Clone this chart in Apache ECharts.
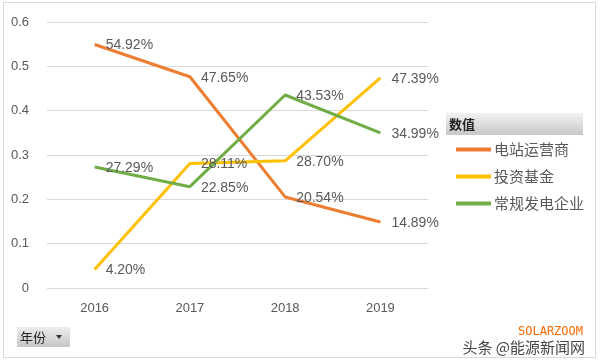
<!DOCTYPE html>
<html><head><meta charset="utf-8">
<script src="https://cdn.jsdelivr.net/npm/echarts@6/dist/echarts.min.js"></script>
<style>html,body{margin:0;padding:0;background:#fff}#c{width:600px;height:364px}</style>
</head><body><div id="c"></div>
<script>
var categories = ['2016', '2017', '2018', '2019'];
var seriesNames = ['电站运营商', '投资基金', '常规发电企业'];
var operators = [0.5492, 0.4765, 0.2054, 0.1489];
var funds = [0.0420, 0.2811, 0.2870, 0.4739];
var conventional = [0.2729, 0.2285, 0.4353, 0.3499];
var yTicks = [0, 0.1, 0.2, 0.3, 0.4, 0.5, 0.6];
var colors = ['#ED7D31', '#FFC000', '#70AD47'];
var font = '"Noto Sans CJK SC", "Microsoft YaHei", sans-serif';

var chart = echarts.init(document.getElementById('c'), null, {renderer: 'canvas'});
function mk(name, data, color) {
  return {
    name: name, type: 'line', data: data, symbol: 'circle', symbolSize: 0, showSymbol: true,
    lineStyle: {width: 3, color: color}, itemStyle: {color: color},
    label: {show: true, position: 'right', distance: 11, color: '#595959', fontSize: 14,
      fontFamily: '"Liberation Sans", "Noto Sans", sans-serif',
      formatter: function (p) { return (p.value * 100).toFixed(2) + '%'; }},
    labelLayout: {dy: 1}
  };
}
chart.setOption({
  animation: false,
  textStyle: {fontFamily: font},
  grid: {left: 47, right: 172, top: 22, bottom: 76},
  xAxis: {type: 'category', data: categories, boundaryGap: true,
    axisLine: {show: false}, axisTick: {show: false},
    axisLabel: {color: '#595959', fontSize: 13, margin: 14, fontFamily: '"Liberation Sans", sans-serif'}},
  yAxis: {type: 'value', min: 0, max: 0.6, interval: 0.1,
    axisLine: {show: false}, axisTick: {show: false},
    splitLine: {lineStyle: {color: '#D9D9D9', width: 1}},
    axisLabel: {color: '#595959', fontSize: 13, margin: 18, fontFamily: '"Liberation Sans", sans-serif',
      formatter: function (v) { return yTicks.indexOf(Math.round(v * 10) / 10) >= 0 ? String(Math.round(v * 10) / 10) : ''; }}},
  legend: {orient: 'vertical', left: 451, top: 137, itemGap: 12, itemWidth: 35, itemHeight: 4,
    icon: 'rect', data: seriesNames,
    textStyle: {color: '#595959', fontSize: 15, fontFamily: font, padding: [0, 0, 0, -2]}},
  graphic: [
    {type: 'rect', shape: {x: 3.5, y: 2.5, width: 592, height: 355}, style: {fill: 'none', stroke: '#D9D9D9', lineWidth: 1}},
    {type: 'rect', shape: {x: 446, y: 113, width: 137, height: 22},
      style: {fill: new echarts.graphic.LinearGradient(0, 0, 0, 1, [{offset: 0, color: '#F2F2F2'}, {offset: 1, color: '#C8C8C8'}])}},
    {type: 'text', x: 449, y: 124, style: {text: '数值', fill: '#222', font: 'bold 13px ' + font, verticalAlign: 'middle'}},
    {type: 'rect', shape: {x: 17, y: 327, width: 53, height: 20},
      style: {fill: new echarts.graphic.LinearGradient(0, 0, 0, 1, [{offset: 0, color: '#EDEDED'}, {offset: 1, color: '#C6C6C6'}])}},
    {type: 'text', x: 20, y: 337, style: {text: '年份', fill: '#222', font: '13px ' + font, verticalAlign: 'middle'}},
    {type: 'polygon', shape: {points: [[56, 335], [62, 335], [59, 339]]}, style: {fill: '#333'}},
    {type: 'text', x: 583, y: 332, style: {text: 'SOLARZOOM', fill: '#FF6A00', font: '12px "DejaVu Sans Mono", monospace', align: 'right', verticalAlign: 'middle'}},
    {type: 'text', x: 585, y: 347, style: {text: '头条 @能源新闻网', fill: '#444', stroke: '#fff', lineWidth: 2, font: '15px ' + font, align: 'right', verticalAlign: 'middle'}}
  ],
  series: [mk(seriesNames[0], operators, colors[0]), mk(seriesNames[1], funds, colors[1]), mk(seriesNames[2], conventional, colors[2])]
});
</script></body></html>
